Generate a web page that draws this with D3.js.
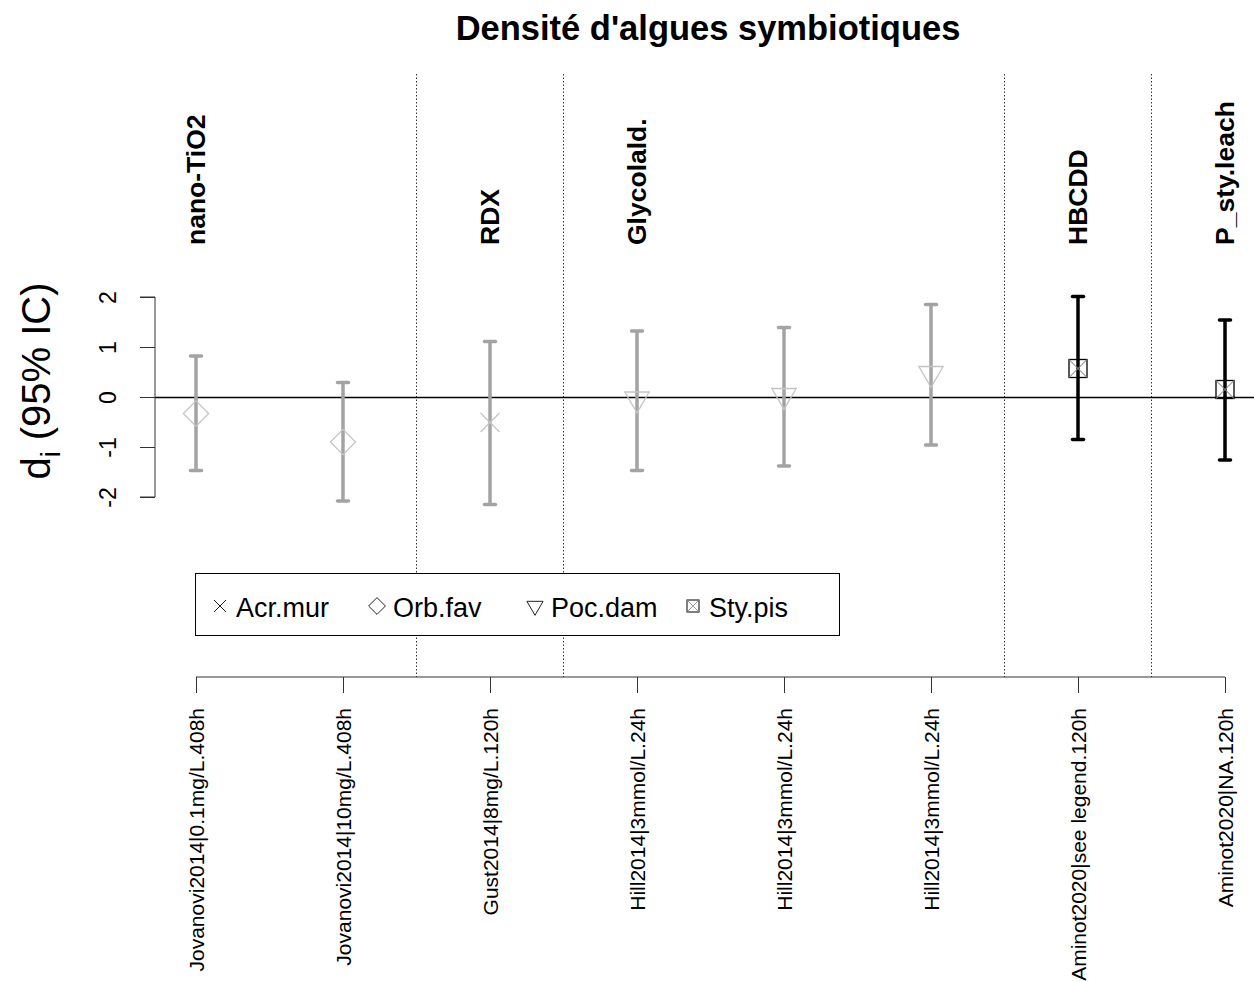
<!DOCTYPE html>
<html>
<head>
<meta charset="utf-8">
<script src="https://cdn.jsdelivr.net/npm/d3@7"></script>
<style>
  body { margin: 0; background: #fff; }
  svg { display: block; font-family: "Liberation Sans", Arial, sans-serif; }
</style>
</head>
<body>
<svg id="chart" width="1254" height="982"></svg>
<script>
// Study labels along the x axis
const studies = [
  "Jovanovi2014|0.1mg/L.408h",
  "Jovanovi2014|10mg/L.408h",
  "Gust2014|8mg/L.120h",
  "Hill2014|3mmol/L.24h",
  "Hill2014|3mmol/L.24h",
  "Hill2014|3mmol/L.24h",
  "Aminot2020|see legend.120h",
  "Aminot2020|NA.120h"
];
// Effect size and 95% interval per study
const effect = [-0.33, -0.90, -0.51, -0.04, 0.03, 0.47, 0.57, 0.15];
const lower  = [-1.47, -2.08, -2.15, -1.47, -1.38, -0.96, -0.85, -1.26];
const upper  = [0.82, 0.29, 1.11, 1.32, 1.39, 1.85, 2.01, 1.54];
const species = ["Orb.fav", "Orb.fav", "Acr.mur", "Poc.dam", "Poc.dam", "Poc.dam", "Sty.pis", "Sty.pis"];
// Contaminant groups: label and the index of the study it sits above
const groupLabels = ["nano-TiO2", "RDX", "Glycolald.", "HBCDD", "P_sty.leach"];
const groupAt = [0, 2, 3, 6, 7];
// Separators between groups (positions between study indices)
const separators = [1.5, 2.5, 5.5, 6.5];
const legendSpecies = ["Acr.mur", "Orb.fav", "Poc.dam", "Sty.pis"];
const yTicks = [-2, -1, 0, 1, 2];

const svg = d3.select("#chart");

const x = d3.scaleLinear().domain([0, 7]).range([196, 1225]);
const y = d3.scaleLinear().domain([-2, 2]).range([497, 297]);

// Title
svg.append("text")
  .attr("x", 708).attr("y", 40)
  .attr("text-anchor", "middle")
  .attr("font-weight", "bold")
  .attr("font-size", 34.5)
  .text("Densité d'algues symbiotiques");

// Group separators (dotted)
svg.selectAll("line.sep").data(separators).join("line")
  .attr("class", "sep")
  .attr("x1", d => Math.floor(x(d)) + 0.5).attr("x2", d => Math.floor(x(d)) + 0.5)
  .attr("y1", 74).attr("y2", 677)
  .attr("stroke", "#333").attr("stroke-width", 1)
  .attr("stroke-dasharray", "1.5,2");

// Zero reference line
svg.append("line")
  .attr("x1", 155).attr("x2", 1254)
  .attr("y1", y(0) + 0.5).attr("y2", y(0) + 0.5)
  .attr("stroke", "#000").attr("stroke-width", 1.3);

// Y axis
const yAxis = d3.axisLeft(y).tickValues(yTicks).tickSize(15).tickFormat(d3.format("d"));
const gy = svg.append("g").attr("transform", "translate(155,0)").call(yAxis);
gy.select(".domain").attr("stroke", "#333").attr("d", `M-15,${y(2)}H0V${y(-2)}H-15`);
gy.selectAll(".tick line").attr("stroke", "#333");
gy.selectAll(".tick text")
  .attr("font-size", 23)
  .attr("fill", "#000")
  .attr("x", null).attr("dy", null)
  .attr("text-anchor", "middle")
  .attr("transform", "translate(-47,0) rotate(-90)")
  .attr("dy", "0.35em")
  .text(d => d < 0 ? "-" + Math.abs(d) : d);

// Y axis title with subscript
const yt = svg.append("text")
  .attr("transform", "translate(50,381) rotate(-90)")
  .attr("text-anchor", "middle")
  .attr("font-size", 40);
yt.append("tspan").text("d");
yt.append("tspan").attr("font-size", 27).attr("dy", 10).text("i");
yt.append("tspan").attr("dy", -10).text(" (95% IC)");

// X axis
const xAxis = d3.axisBottom(x).tickValues(d3.range(studies.length)).tickSize(16).tickFormat(i => studies[i]);
const gx = svg.append("g").attr("transform", "translate(0,677)").call(xAxis);
gx.select(".domain").attr("stroke", "#333").attr("d", `M${x(0)},0H${x(7)}`);
gx.selectAll(".tick line").attr("stroke", "#333");
gx.selectAll(".tick text")
  .attr("font-size", 21)
  .attr("fill", "#000")
  .attr("y", null).attr("dy", null)
  .attr("text-anchor", "end")
  .attr("transform", "translate(0,31) rotate(-90)")
  .attr("dy", "0.35em");

// Group labels above the plot
svg.selectAll("text.group").data(groupLabels).join("text")
  .attr("class", "group")
  .attr("transform", (d, i) => `translate(${x(groupAt[i])},245) rotate(-90)`)
  .attr("dy", "0.35em")
  .attr("font-weight", "bold")
  .attr("font-size", 26.5)
  .text(d => d);

// Error bars
const isStyle = s => s === "Sty.pis";
const barColor = s => isStyle(s) ? "#000" : "#a3a3a3";
const g = svg.append("g");
studies.forEach((s, i) => {
  const c = barColor(species[i]);
  g.append("line")
    .attr("x1", x(i)).attr("x2", x(i))
    .attr("y1", y(lower[i])).attr("y2", y(upper[i]))
    .attr("stroke", c).attr("stroke-width", 3.5);
  [lower[i], upper[i]].forEach(v => {
    g.append("line")
      .attr("x1", x(i) - 5.5).attr("x2", x(i) + 5.5)
      .attr("y1", y(v)).attr("y2", y(v))
      .attr("stroke", c).attr("stroke-width", 3.5)
      .attr("stroke-linecap", "round");
  });
});

// Point symbols
function drawSymbol(sel, sp, cx, cy, r, color, lw) {
  if (sp === "Acr.mur") {
    sel.append("path")
      .attr("d", `M${cx - r},${cy - r}L${cx + r},${cy + r}M${cx - r},${cy + r}L${cx + r},${cy - r}`)
      .attr("stroke", color).attr("stroke-width", lw).attr("fill", "none");
  } else if (sp === "Orb.fav") {
    const d = r * 1.4;
    sel.append("path")
      .attr("d", `M${cx},${cy - d}L${cx + d},${cy}L${cx},${cy + d}L${cx - d},${cy}Z`)
      .attr("stroke", color).attr("stroke-width", lw).attr("fill", "none");
  } else if (sp === "Poc.dam") {
    const rr = r * 1.55, xc = r * 1.35, yc = r * 0.78;
    sel.append("path")
      .attr("d", `M${cx},${cy + rr}L${cx + xc},${cy - yc}L${cx - xc},${cy - yc}Z`)
      .attr("stroke", color).attr("stroke-width", lw).attr("fill", "none");
  } else {
    sel.append("rect")
      .attr("x", cx - r).attr("y", cy - r).attr("width", 2 * r).attr("height", 2 * r)
      .attr("stroke", "#000").attr("stroke-width", lw).attr("fill", "none");
    sel.append("path")
      .attr("d", `M${cx - r},${cy - r}L${cx + r},${cy + r}M${cx - r},${cy + r}L${cx + r},${cy - r}`)
      .attr("stroke", "#888").attr("stroke-width", lw * 0.8).attr("fill", "none");
  }
}
const pts = svg.append("g");
studies.forEach((s, i) => {
  const sp = species[i];
  drawSymbol(pts, sp, x(i), y(effect[i]), sp === "Acr.mur" ? 9.5 : 9, isStyle(sp) ? "#000" : "#c4c4c4", 1.3);
});

// Legend
const lg = svg.append("g");
lg.append("rect")
  .attr("x", 195.5).attr("y", 573.5).attr("width", 644).attr("height", 62)
  .attr("fill", "#fff").attr("stroke", "#000").attr("stroke-width", 1);
const legendX = [220, 377, 535, 693];
legendSpecies.forEach((sp, i) => {
  drawSymbol(lg, sp, legendX[i], 606, 6, "#222", 1);
  lg.append("text")
    .attr("x", legendX[i] + 16).attr("y", 607)
    .attr("dy", "0.36em")
    .attr("font-size", 27)
    .text(sp);
});
</script>
</body>
</html>
